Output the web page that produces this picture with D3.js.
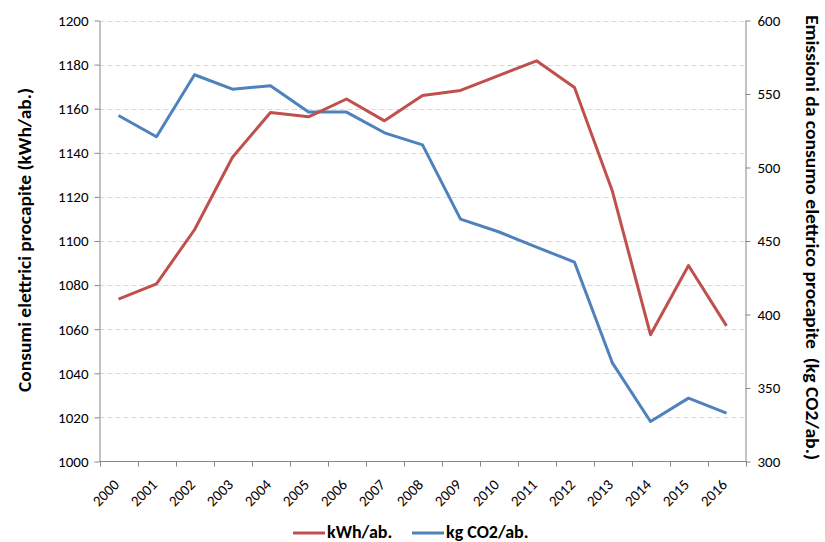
<!DOCTYPE html>
<html>
<head>
<meta charset="utf-8">
<script src="https://cdn.jsdelivr.net/npm/d3@7"></script>
<style>
  html, body { margin: 0; padding: 0; background: #fff; }
  svg { display: block; font-family: Carlito, Lato, "Open Sans", sans-serif; }
</style>
</head>
<body>
<svg id="chart" width="825" height="542"></svg>
<script>
// Years on the category axis
const years = ["2000","2001","2002","2003","2004","2005","2006","2007","2008",
               "2009","2010","2011","2012","2013","2014","2015","2016"];
// Per-capita electricity consumption (kWh per inhabitant), left axis
const kwh = [1073.6, 1080.6, 1105.1, 1138.0, 1158.3, 1156.3, 1164.4, 1154.5, 1166.0,
             1168.3, 1175.0, 1181.7, 1169.6, 1122.4, 1057.5, 1088.9, 1061.5];
// Per-capita emissions from electricity use (kg CO2 per inhabitant), right axis
const co2 = [535.4, 520.9, 563.1, 553.3, 555.6, 537.7, 537.7, 523.6, 515.4,
             464.9, 456.3, 445.9, 435.6, 366.9, 327.2, 343.1, 332.9];
const leftTicks = [1000, 1020, 1040, 1060, 1080, 1100, 1120, 1140, 1160, 1180, 1200];
const rightTicks = [300, 350, 400, 450, 500, 550, 600];
const seriesNames = ["kWh/ab.", "kg CO2/ab."];
const leftTitle = "Consumi elettrici procapite (kWh/ab.)";
const rightTitle = "Emissioni da consumo elettrico procapite\u00a0 (kg CO2/ab.)";

const colors = ["#c0504d", "#4f81bd"];
const axisColor = "#868686";
const textColor = "#000";
const tickFont = "15px";

const svg = d3.select("#chart");
const plotLeft = 99.5, plotRight = 745.5, plotTop = 20.5, plotBottom = 461.5;

const x = d3.scaleBand().domain(years).range([plotLeft, plotRight]);
const xc = d => x(d) + x.bandwidth() / 2;
const yL = d3.scaleLinear().domain([1000, 1200]).range([plotBottom, plotTop]);
const yR = d3.scaleLinear().domain([300, 600]).range([plotBottom, plotTop]);

// dashed horizontal gridlines
svg.append("g").selectAll("line")
  .data(leftTicks.filter(t => t > 1000))
  .join("line")
  .attr("x1", plotLeft).attr("x2", plotRight)
  .attr("y1", d => Math.round(yL(d)) + 0.5).attr("y2", d => Math.round(yL(d)) + 0.5)
  .attr("stroke", "#d9d9d9").attr("stroke-width", 1)
  .attr("stroke-dasharray", "5,3");

// left axis
const gL = svg.append("g").attr("transform", `translate(${plotLeft},0)`)
  .call(d3.axisLeft(yL).tickValues(leftTicks).tickFormat(d3.format("d"))
    .tickSize(5).tickSizeOuter(0).tickPadding(6));
// right axis
const gR = svg.append("g").attr("transform", `translate(${plotRight},0)`)
  .call(d3.axisRight(yR).tickValues(rightTicks).tickFormat(d3.format("d"))
    .tickSize(5).tickSizeOuter(0).tickPadding(7));
[gL, gR].forEach(g => {
  g.attr("font-family", null);
  g.select(".domain").attr("stroke", axisColor);
  g.selectAll(".tick line").attr("stroke", axisColor);
  g.selectAll(".tick text").attr("fill", textColor).style("font-size", tickFont);
});

// bottom axis with ticks on category boundaries
const gX = svg.append("g").attr("transform", `translate(0,${plotBottom})`);
gX.append("line").attr("x1", plotLeft).attr("x2", plotRight + 0.5)
  .attr("stroke", axisColor);
const bounds = years.map(d => x(d)).concat([x(years[years.length - 1]) + x.bandwidth()]);
gX.selectAll(".bt").data(bounds).join("line")
  .attr("class", "bt")
  .attr("x1", d => Math.round(d) + 0.5).attr("x2", d => Math.round(d) + 0.5)
  .attr("y1", 0).attr("y2", 5).attr("stroke", axisColor);
gX.selectAll(".yl").data(years).join("text")
  .attr("class", "yl")
  .attr("transform", d => `translate(${xc(d) - 2},${20.5}) rotate(-45)`)
  .attr("text-anchor", "end")
  .attr("dy", "0.35em")
  .style("font-size", tickFont)
  .attr("fill", textColor)
  .text(d => d);

// lines
const lineL = d3.line().x((d, i) => xc(years[i])).y(d => yL(d));
const lineR = d3.line().x((d, i) => xc(years[i])).y(d => yR(d));
svg.append("path").datum(co2).attr("d", lineR)
  .attr("fill", "none").attr("stroke", colors[1]).attr("stroke-width", 3)
  .attr("stroke-linejoin", "round");
svg.append("path").datum(kwh).attr("d", lineL)
  .attr("fill", "none").attr("stroke", colors[0]).attr("stroke-width", 3)
  .attr("stroke-linejoin", "round");

// axis titles
svg.append("text")
  .attr("transform", `translate(31,240) rotate(-90)`)
  .attr("text-anchor", "middle")
  .attr("textLength", 304).attr("lengthAdjust", "spacingAndGlyphs")
  .style("font-size", "17.5px").style("font-weight", "bold")
  .attr("fill", textColor)
  .text(leftTitle);
svg.append("text")
  .attr("transform", `translate(806,237.5) rotate(90)`)
  .attr("text-anchor", "middle")
  .attr("textLength", 445).attr("lengthAdjust", "spacingAndGlyphs")
  .style("font-size", "17.5px").style("font-weight", "bold")
  .attr("fill", textColor)
  .text(rightTitle);

// legend
const legendX = [293, 412];
const lg = svg.append("g");
seriesNames.forEach((name, i) => {
  lg.append("line")
    .attr("x1", legendX[i]).attr("x2", legendX[i] + 32)
    .attr("y1", 533).attr("y2", 533)
    .attr("stroke", colors[i]).attr("stroke-width", 3);
  lg.append("text")
    .attr("x", legendX[i] + 34).attr("y", 532)
    .attr("dy", "0.35em")
    .style("font-size", "18px").style("font-weight", "bold")
    .attr("fill", textColor)
    .text(name);
});
</script>
</body>
</html>
